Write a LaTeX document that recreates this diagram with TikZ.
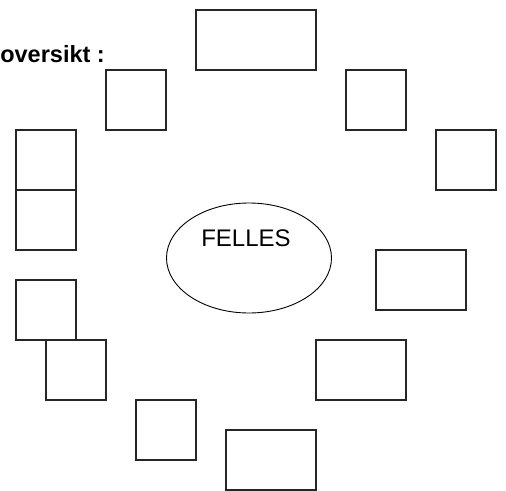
\documentclass[tikz,border=0pt]{standalone}
\usepackage{fontspec}
\setmainfont{Liberation Sans}
\usetikzlibrary{shapes.geometric}
\tikzset{
  box/.style={draw=black!85, line width=1.5pt, rectangle, inner sep=0pt, minimum width=60pt, minimum height=60pt},
  widebox/.style={box, minimum width=90pt},
  felleshape/.style={draw, line width=0.9pt, ellipse, inner sep=0pt, minimum width=165pt, minimum height=110pt},
  title/.style={font=\fontsize{23.5}{26}\selectfont\bfseries, inner sep=0pt},
  centertext/.style={font=\fontsize{24}{28}\selectfont, inner sep=0pt}
}
\begin{document}
\begin{tikzpicture}[x=1pt,y=-1pt]
\useasboundingbox[fill=white] (0,0) rectangle (506,490);
\node[title, anchor=base east] (title) at (105,62.5) {oversikt :};
\node[box, minimum width=120pt] (top) at (256,40) {};
\node[box] (b2) at (136,100) {};
\node[box] (b3) at (376,100) {};
\node[box] (b4) at (466,160) {};
\node[box] (l1) at (46,160) {};
\node[box] (l2) at (46,220) {};
\node[box] (l3) at (46,310) {};
\node[box] (l4) at (76,370) {};
\node[box] (b5) at (166,430) {};
\node[widebox] (bottom) at (271,460) {};
\node[widebox] (r1) at (421,280) {};
\node[widebox] (r2) at (361,370) {};
\node[felleshape] (felles) at (249,258) {};
\node[centertext, anchor=base] (fellestext) at (246,246.7) {FELLES};
\end{tikzpicture}
\end{document}
